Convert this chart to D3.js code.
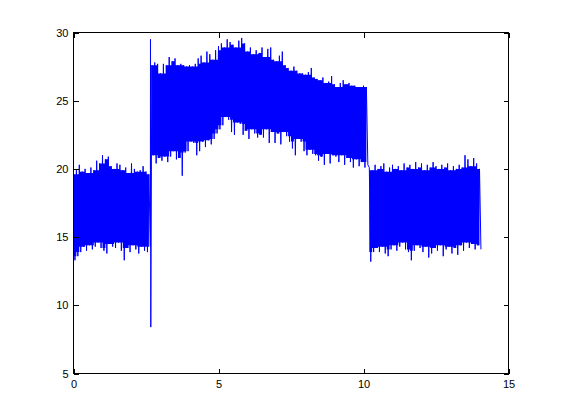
<!DOCTYPE html>
<html>
<head>
<meta charset="utf-8">
<script src="https://cdn.jsdelivr.net/npm/d3@7"></script>
<style>
  html, body { margin: 0; padding: 0; background: #ffffff; }
  svg { display: block; }
  text { font-family: "Liberation Sans", Arial, sans-serif; font-size: 11px; fill: #000; }
</style>
</head>
<body>
<div id="chart"></div>
<script>
// ---- data (upper / lower envelope of the noisy signal) ----
const xTicks = [0, 5, 10, 15];
const yTicks = [5, 10, 15, 20, 25, 30];

const seg1Start = 0.0, seg1Step = 0.1;
const seg1Hi = [19.6, 19.9, 20.3, 19.8, 20.0, 19.7, 20.1, 19.9, 20.6, 20.4, 21.0, 20.7, 20.9, 20.2,
                20.0, 20.4, 20.3, 19.9, 20.1, 19.7, 20.4, 20.0, 19.8, 19.9, 20.2, 19.8, 19.6];
const seg1Lo = [13.3, 13.6, 13.9, 14.3, 14.0, 14.4, 14.1, 14.3, 14.6, 14.2, 14.0, 13.8, 14.5, 14.3,
                14.2, 14.6, 14.0, 13.3, 14.2, 13.9, 14.4, 14.1, 13.8, 14.3, 14.0, 13.9, 14.3];

const spikeX = [2.655, 2.665];
const spikeY = [29.5, 8.4];

const seg2Start = 2.7, seg2Step = 0.1;
const seg2Hi = [27.6, 27.8, 27.7, 27.0, 27.7, 27.6, 28.2, 27.9, 28.1, 27.6, 27.7, 27.6, 27.5, 27.6,
                27.5, 27.7, 28.1, 28.3, 27.8, 28.6, 28.4, 28.0, 28.7, 29.0, 29.2, 28.9, 29.5, 29.3,
                29.1, 28.9, 29.4, 29.6, 29.2, 28.6, 28.9, 28.4, 28.7, 28.5,
                28.9, 28.2, 28.8, 28.9, 28.0, 27.9, 28.3, 28.6, 27.6, 27.4, 27.2, 27.5, 27.2, 27.0,
                27.0, 26.9, 27.1, 27.4, 26.7, 26.6, 26.5, 26.7, 26.3, 26.4, 26.8, 26.2, 26.0, 26.3,
                26.5, 26.2, 26.3, 26.1, 26.1, 26.0, 26.0, 26.1, 26.0];
const seg2Lo = [21.0, 20.4, 20.8, 20.6, 20.9, 20.5, 20.9, 21.3, 20.7, 20.8, 19.5, 21.2, 21.3, 22.0,
                21.9, 21.0, 21.3, 22.0, 21.6, 22.1, 21.8, 22.2, 22.6, 22.9, 23.2, 23.8, 23.6, 22.7,
                22.5, 23.4, 23.3, 22.5, 22.8, 22.2, 22.9, 22.6, 22.3, 22.5,
                22.3, 22.9, 21.9, 22.7, 21.9, 22.6, 21.8, 22.7, 22.4, 22.0, 21.5, 21.0, 22.2, 22.0,
                21.3, 21.0, 21.4, 21.1, 21.0, 20.6, 20.9, 20.3, 21.1, 20.4, 21.0, 20.9, 20.5, 21.0,
                20.3, 20.8, 20.5, 20.1, 20.7, 20.2, 20.5, 20.1, 20.3];

const seg3Start = 10.2, seg3Step = 0.1;
const seg3Hi = [20.1, 19.9, 20.3, 20.0, 20.2, 20.4, 19.8, 20.1, 20.3, 20.0, 20.2, 19.9, 20.4, 20.1,
                20.3, 20.0, 20.5, 20.1, 20.4, 19.9, 20.3, 20.1, 20.5, 20.2, 20.0, 20.3, 20.1, 20.4,
                19.9, 20.2, 20.0, 20.3, 20.1, 21.0, 20.7, 20.2, 20.8, 20.4, 20.0];
const seg3Lo = [13.2, 13.9, 14.2, 13.9, 14.3, 13.8, 13.6, 14.1, 14.4, 14.0, 14.3, 14.6, 14.1, 13.9,
                13.3, 14.0, 14.4, 14.2, 13.9, 14.3, 13.5, 13.8, 14.2, 14.0, 14.4, 13.6, 14.1, 14.3,
                13.8, 14.2, 13.7, 14.4, 14.0, 14.6, 14.2, 14.5, 14.1, 14.4, 14.1];

// ---- layout ----
const W = 561, H = 420;
const pL = 73.5, pR = 508.5, pT = 32.5, pB = 373.5;

const x = d3.scaleLinear().domain([0, 15]).range([pL, pR]);
const y = d3.scaleLinear().domain([5, 30]).range([pB, pT]);

const svg = d3.select("#chart").append("svg").attr("width", W).attr("height", H);
svg.append("rect").attr("width", W).attr("height", H).attr("fill", "#fff");

svg.append("defs").append("clipPath").attr("id", "clip")
  .append("rect").attr("x", pL).attr("y", pT).attr("width", pR - pL).attr("height", pB - pT);

const blue = "#0000ff";

function segPoints(start, step, hi, lo) {
  const zig = [], core = [];
  hi.forEach((h, i) => {
    const xi = start + i * step;
    zig.push([xi, h]);
    zig.push([xi + step / 2, lo[i]]);
    const a = Math.max(0, i - 1), b = Math.min(hi.length - 1, i + 1);
    const cHi = Math.min(hi[a], hi[i], hi[b]);
    const cLo = Math.max(lo[a], lo[i], lo[b]);
    core.push([xi, cLo, cHi]);
    core.push([xi + step, cLo, cHi]);
  });
  return { zig, core };
}

const s1 = segPoints(seg1Start, seg1Step, seg1Hi, seg1Lo);
const s2 = segPoints(seg2Start, seg2Step, seg2Hi, seg2Lo);
const s3 = segPoints(seg3Start, seg3Step, seg3Hi, seg3Lo);

const plot = svg.append("g").attr("clip-path", "url(#clip)");

const area = d3.area().x(d => x(d[0])).y0(d => y(d[1])).y1(d => y(d[2]));
[s1, s2, s3].forEach(s => {
  const c = s.core.slice(0, s.core.length - 1);
  plot.append("path").attr("d", area(c)).attr("fill", blue);
});

const allPts = [].concat(
  s1.zig,
  spikeX.map((v, i) => [v, spikeY[i]]),
  s2.zig,
  s3.zig
);
const line = d3.line().x(d => x(d[0])).y(d => y(d[1]));
plot.append("path").attr("d", line(allPts))
  .attr("fill", "none").attr("stroke", blue).attr("stroke-width", 1);

// ---- axes (MATLAB style: inward ticks on all sides, box) ----
const tl = 5;
const gB = svg.append("g").attr("transform", `translate(0,${pB})`)
  .call(d3.axisBottom(x).tickValues(xTicks).tickSizeInner(-tl).tickSizeOuter(0).tickPadding(7).tickFormat(d3.format("d")));
const gT = svg.append("g").attr("transform", `translate(0,${pT})`)
  .call(d3.axisTop(x).tickValues(xTicks).tickSizeInner(-tl).tickSizeOuter(0).tickFormat(""));
const gL = svg.append("g").attr("transform", `translate(${pL},0)`)
  .call(d3.axisLeft(y).tickValues(yTicks).tickSizeInner(-tl).tickSizeOuter(0).tickPadding(5).tickFormat(d3.format("d")));
const gR = svg.append("g").attr("transform", `translate(${pR},0)`)
  .call(d3.axisRight(y).tickValues(yTicks).tickSizeInner(-tl).tickSizeOuter(0).tickFormat(""));

[gB, gT, gL, gR].forEach(g => {
  g.select(".domain").remove();
  g.selectAll("line").attr("stroke", "#000").attr("shape-rendering", "crispEdges");
  g.selectAll("text").attr("font-family", "'Liberation Sans', Arial, sans-serif").attr("font-size", 11).attr("fill", "#000");
});

svg.append("rect").attr("x", pL).attr("y", pT)
  .attr("width", pR - pL).attr("height", pB - pT)
  .attr("fill", "none").attr("stroke", "#000").attr("stroke-width", 1)
  .attr("shape-rendering", "crispEdges");
</script>
</body>
</html>
